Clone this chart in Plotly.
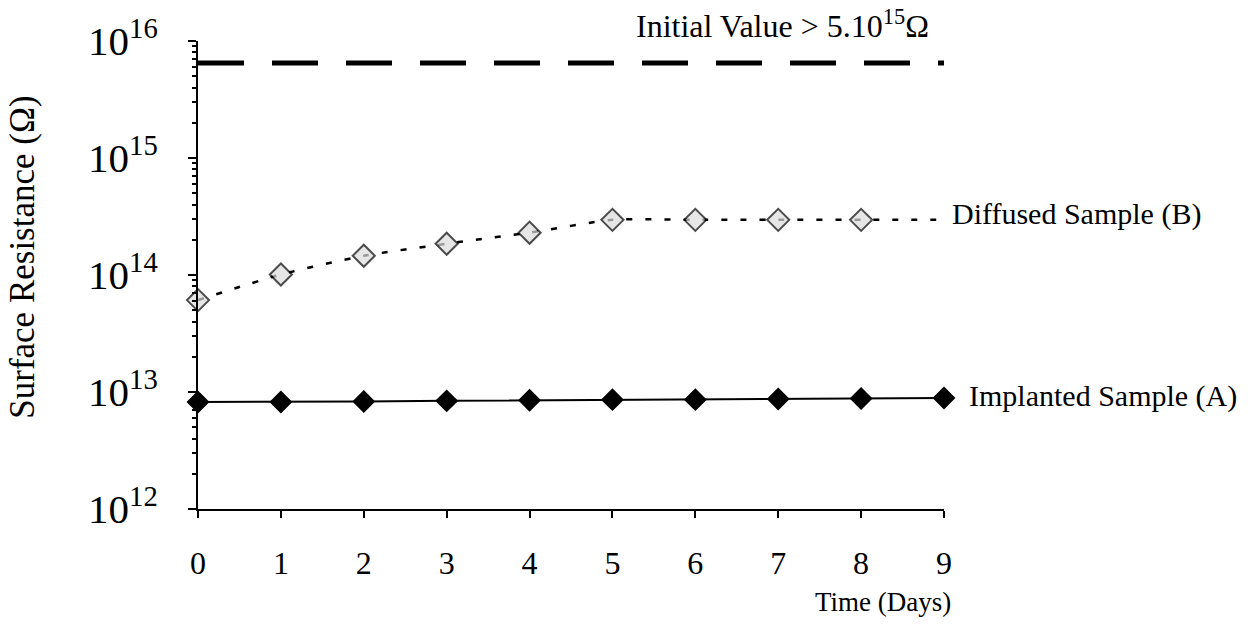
import plotly.graph_objects as go

days = [0, 1, 2, 3, 4, 5, 6, 7, 8, 9]
implanted_A = [8.2e12, 8.2e12, 8.3e12, 8.4e12, 8.5e12, 8.6e12, 8.6e12, 8.7e12, 8.8e12, 8.9e12]
diffused_B = [6.1e13, 1.01e14, 1.46e14, 1.85e14, 2.3e14, 2.96e14, 2.96e14, 2.96e14, 2.96e14, 2.96e14]
initial_days = [0, 9]
initial_value = [6.5e15, 6.5e15]
y_tickvals = [1e12, 1e13, 1e14, 1e15, 1e16]
y_ticktext = ["10<sup>12</sup>", "10<sup>13</sup>", "10<sup>14</sup>", "10<sup>15</sup>", "10<sup>16</sup>"]
x_tickvals = [0, 1, 2, 3, 4, 5, 6, 7, 8, 9]

FONT = "Liberation Serif"

fig = go.Figure()

fig.add_trace(go.Scatter(
    x=initial_days, y=initial_value, mode="lines",
    line=dict(color="black", width=5, dash="46px,28px"),
    showlegend=False, hoverinfo="skip"))

fig.add_trace(go.Scatter(
    x=days, y=diffused_B, mode="lines+markers",
    line=dict(color="black", width=2.5, dash="6px,13px", shape="spline", smoothing=0.6),
    marker=dict(symbol="diamond", size=[17] * 9 + [0], color="#dcdcdc",
                line=dict(color="black", width=2)),
    cliponaxis=False, showlegend=False))

fig.add_trace(go.Scatter(
    x=days, y=implanted_A, mode="lines+markers",
    line=dict(color="black", width=2),
    marker=dict(symbol="diamond", size=16, color="black",
                line=dict(color="black", width=1.5)),
    cliponaxis=False, showlegend=False))

fig.update_layout(
    width=1255, height=630,
    margin=dict(l=198, r=311, t=38, b=121),
    plot_bgcolor="white", paper_bgcolor="white",
    font=dict(family=FONT, color="black"),
    xaxis=dict(
        range=[0, 9], tickvals=x_tickvals, ticks="outside", ticklen=7, tickwidth=2,
        tickcolor="black", showline=True, linecolor="black", linewidth=2,
        showgrid=False, zeroline=False, tickfont=dict(size=32, family=FONT),
        ticklabelstandoff=18),
    yaxis=dict(
        type="log", range=[12, 16], tickvals=y_tickvals, ticktext=y_ticktext,
        ticks="outside", ticklen=8, tickwidth=2, tickcolor="black",
        showline=True, linecolor="black", linewidth=2, showgrid=False, zeroline=False,
        tickfont=dict(size=41, family=FONT), ticklabelstandoff=22,
        minor=dict(ticks="outside", ticklen=4, tickwidth=2, tickcolor="black", dtick="D1", showgrid=False)),
    xaxis2=dict(
        overlaying="x", anchor="y", side="bottom", range=[0, 9], tickvals=x_tickvals,
        ticks="inside", ticklen=7, tickwidth=2, tickcolor="black", showticklabels=False,
        showline=False, showgrid=False, zeroline=False),
    yaxis2=dict(
        overlaying="y", anchor="x", side="left", type="log", range=[12, 16], tickvals=y_tickvals,
        ticks="inside", ticklen=8, tickwidth=2, tickcolor="black", showticklabels=False,
        showline=False, showgrid=False, zeroline=False),
)

ann = dict(xref="paper", yref="paper", showarrow=False, font=dict(family=FONT, color="black"))
fig.add_annotation(ann, x=-0.2346, y=0.539, text="Surface Resistance (Ω)", textangle=-90,
                   font=dict(size=35, family=FONT, color="black"), xanchor="center", yanchor="middle")
fig.add_annotation(ann, x=0.918, y=-0.1996, text="Time (Days)",
                   font=dict(size=27, family=FONT, color="black"), xanchor="center", yanchor="middle")
fig.add_annotation(ann, x=0.783, y=1.036, text="Initial Value > 5.10<sup>15</sup>Ω",
                   font=dict(size=32, family=FONT, color="black"), xanchor="center", yanchor="middle")
fig.add_annotation(ann, x=1.008, y=0.6306, text="Diffused Sample (B)",
                   font=dict(size=30, family=FONT, color="black"), xanchor="left", yanchor="middle")
fig.add_annotation(ann, x=1.0308, y=0.242, text="Implanted Sample (A)",
                   font=dict(size=30, family=FONT, color="black"), xanchor="left", yanchor="middle")

fig.write_html("out.html")
